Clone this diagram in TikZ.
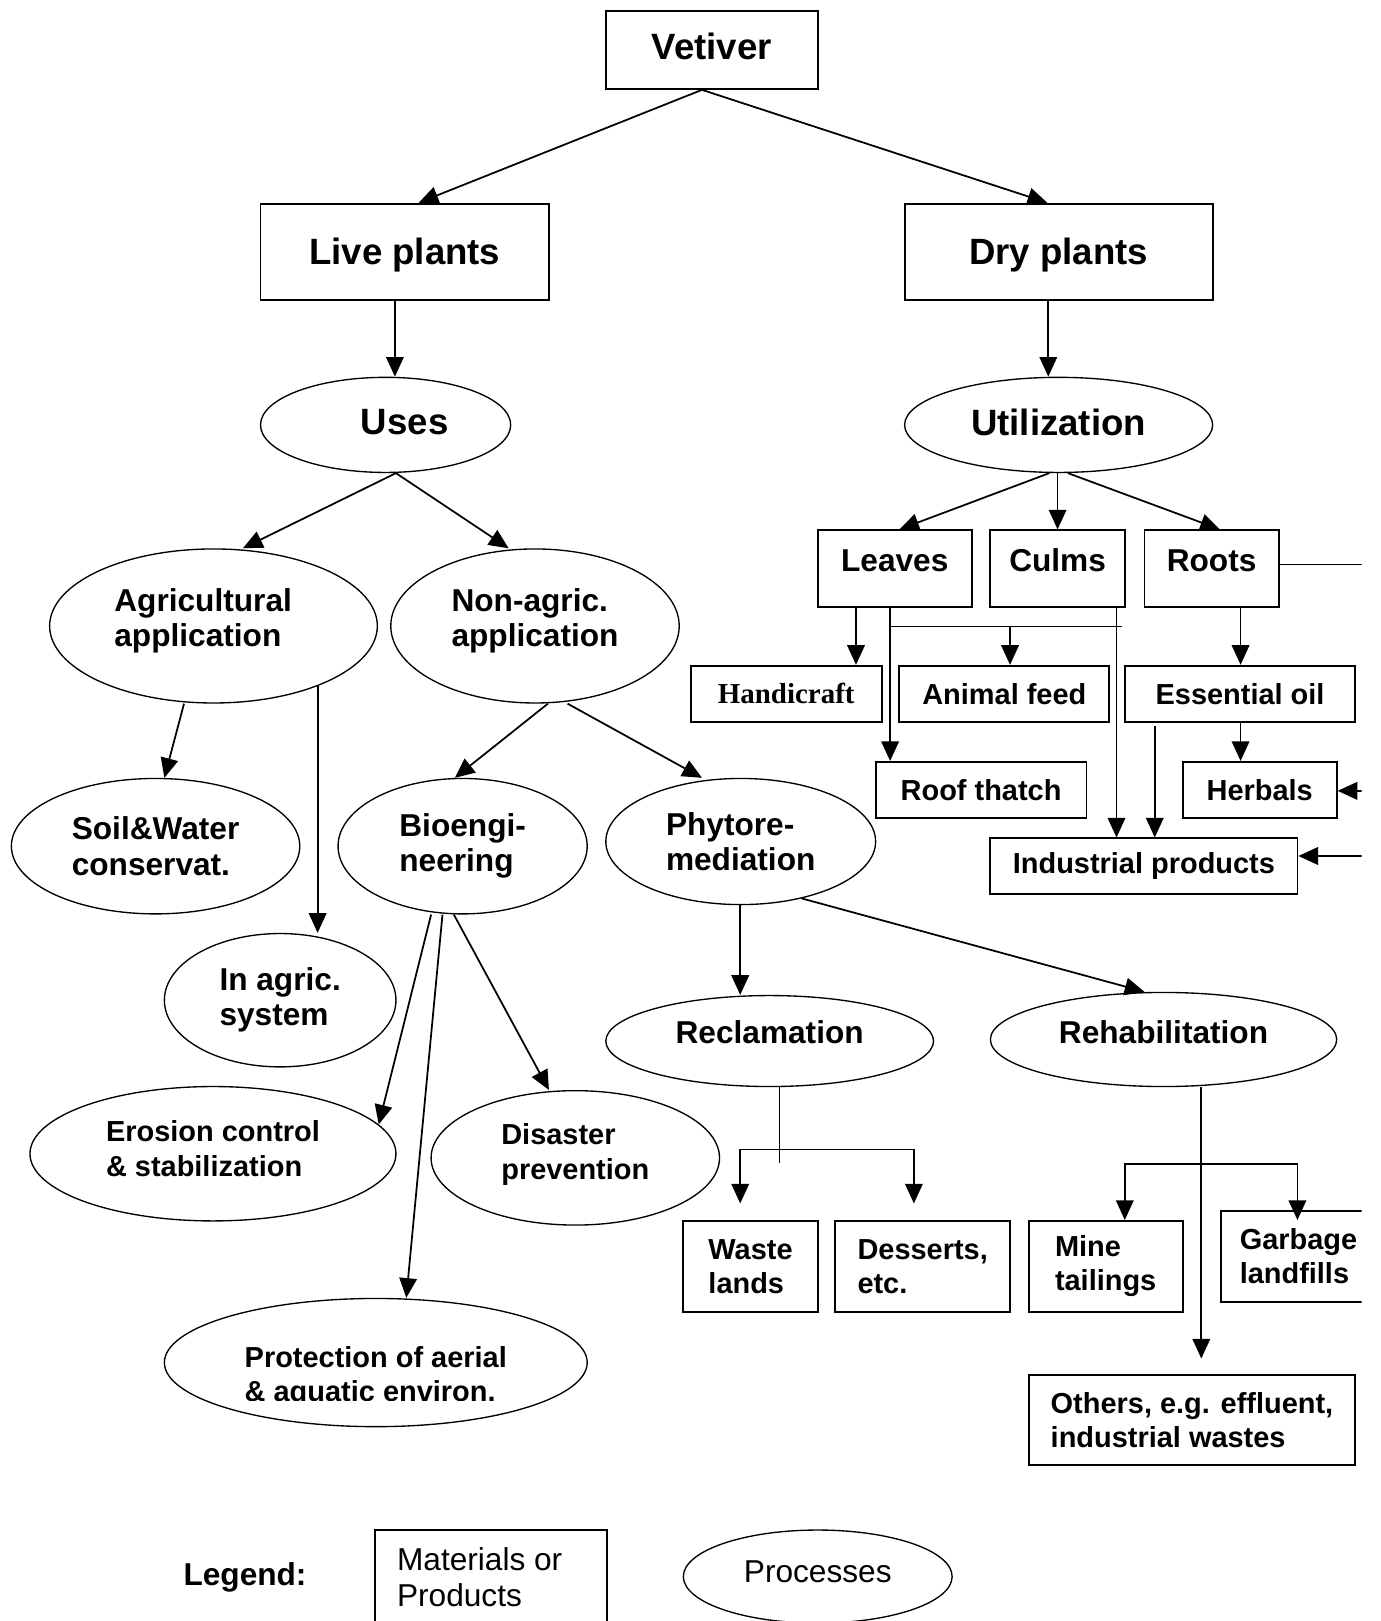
\documentclass[tikz,border=0pt]{standalone}
\usepackage{fontspec}
\setmainfont{Liberation Sans}
\newfontfamily\serifface{Liberation Serif}
\usetikzlibrary{shapes.geometric,arrows.meta}
\newcommand\bigtxt{\fontsize{17.7}{21}\selectfont\bfseries}
\newcommand\medtxt{\fontsize{15.3}{17}\selectfont\bfseries}
\newcommand\smalltxt{\fontsize{14}{16.5}\selectfont\bfseries}
\newcommand\legtxt{\fontsize{15.3}{17.5}\selectfont}
\begin{document}
\begin{tikzpicture}[x=0.5pt,y=-0.5pt,line width=0.85pt,>={Triangle[length=9.5pt,width=8.5pt]},
  box/.style={draw,line width=0.9pt,inner sep=0pt,align=left,font=\smalltxt},
  proc/.style={ellipse,draw,line width=0.65pt,inner sep=0pt,align=left,font=\medtxt},
  topbox/.style={box,font=\medtxt,minimum height=37pt,text height=11pt,text depth=8pt}]
\useasboundingbox (0,0) rectangle (1335,1568);
\begin{scope}
\clip (0,0) rectangle (1317,1568);
\node[box,font=\bigtxt,minimum width=102.5pt,minimum height=37.5pt,text depth=4pt] (vet) at (688.5,48.5) {Vetiver};
\node[box,font=\bigtxt,minimum width=139.5pt,minimum height=46.5pt,text depth=0pt] (live) at (391.5,243.5) {Live plants};
\node[box,font=\bigtxt,minimum width=149pt,minimum height=46.5pt,text depth=0pt] (dry) at (1024,243.5) {Dry plants};
\node[proc,font=\bigtxt,minimum width=121pt,minimum height=46pt,text depth=3pt] (uses) at (373,411) {\hspace*{18.5pt}Uses};
\node[proc,font=\bigtxt,minimum width=149pt,minimum height=46pt,text depth=3pt] (util) at (1024,411) {Utilization};
\node[proc,minimum width=158.5pt,minimum height=74.5pt,text depth=8.2pt] (agric) at (206.5,605.5) {Agricultural\hspace*{10pt}\\application};
\node[proc,minimum width=139.5pt,minimum height=74.5pt,text depth=8.2pt] (nonagric) at (517.5,605.5) {Non-agric.\\application};
\node[proc,minimum width=139.5pt,minimum height=65.5pt] (soil) at (150.5,818.5) {Soil\&Water\\conservat.};
\node[proc,minimum width=120.5pt,minimum height=65.5pt] (bio) at (447.5,818.5) {Bioengi-\\neering};
\node[proc,minimum width=130.5pt,minimum height=61pt] (phyto) at (716.5,814) {Phytore-\\mediation};
\node[proc,minimum width=112pt,minimum height=64.5pt] (inagric) at (271,967.5) {In agric.\\system};
\node[proc,font=\smalltxt,minimum width=177pt,minimum height=65pt,text depth=5pt] (erosion) at (206,1116) {Erosion control\\\& stabilization};
\node[proc,font=\smalltxt,minimum width=139.5pt,minimum height=65pt,text depth=6.2pt] (disaster) at (556.5,1120) {Disaster\\prevention};
\node[proc,minimum width=204.5pt,minimum height=62pt] (prot) at (363.5,1318) {};
\begin{scope}
\clip (150,1250) rectangle (580,1355);
\node[font={\fontsize{14}{16}\selectfont\bfseries},align=left] (prottext) at (363.5,1332) {Protection of aerial\\\& aquatic environ.};
\end{scope}
\node[proc,minimum width=158.5pt,minimum height=44pt,text depth=9pt] (reclam) at (744.5,1007) {Reclamation};
\node[proc,minimum width=167.5pt,minimum height=45.5pt,text depth=7pt] (rehab) at (1125.5,1005.5) {Rehabilitation};
\node[topbox,minimum width=74.5pt] (leaves) at (865.5,550) {Leaves};
\node[topbox,minimum width=65pt] (culms) at (1023,550) {Culms};
\node[topbox,minimum width=65pt] (roots) at (1172,550) {Roots};
\node[box,font={\smalltxt\serifface},minimum width=92.5pt,minimum height=27pt] (hand) at (760.5,671) {Handicraft};
\node[box,minimum width=101.5pt,minimum height=27pt] (feed) at (971.5,671) {Animal feed};
\node[box,minimum width=111.5pt,minimum height=27pt] (oil) at (1199.5,671) {Essential oil};
\node[box,minimum width=102pt,minimum height=27pt] (roof) at (949,764) {Roof thatch};
\node[box,minimum width=74.5pt,minimum height=27pt] (herb) at (1218.5,764) {Herbals};
\node[box,minimum width=148.5pt,minimum height=27pt] (indus) at (1106.5,838) {Industrial products};
\node[box,minimum width=65pt,minimum height=44pt] (waste) at (726,1225) {Waste\\lands};
\node[box,minimum width=84.5pt,minimum height=44pt] (dessert) at (892.5,1225) {Desserts,\\etc.};
\node[box,minimum width=74.5pt,minimum height=44pt] (mine) at (1069.5,1225) {Mine\\tailings};
\node[box,minimum width=75pt,minimum height=44pt] (garbage) at (1256,1215) {Garbage\\landfills};
\node[box,minimum width=158pt,minimum height=43.5pt] (others) at (1153,1373.5) {Others, e.g. effluent,\\industrial wastes};
\node[font=\medtxt] (legend) at (237,1526) {Legend:};
\node[box,font=\legtxt,minimum width=112pt,minimum height=46pt] (legbox) at (475,1526) {Materials or\hspace*{11pt}\\Products};
\node[proc,font=\legtxt,minimum width=130pt,minimum height=45pt,text depth=5pt] (legproc) at (791,1525) {Processes};
\draw[->] (679,0 |- vet.south) -- (405,0 |- live.north);
\draw[->] (679,0 |- vet.south) -- (1013,0 |- dry.north);
\draw[->] (382,0 |- live.south) -- (382,0 |- uses.north);
\draw[->] (1014,0 |- dry.south) -- (1014,0 |- util.north);
\draw[->] (383,0 |- uses.south) -- (235,0 |- agric.north);
\draw[->] (383,0 |- uses.south) -- (492,0 |- nonagric.north);
\draw[->] (178,0 |- agric.south) -- (159,0 |- soil.north);
\draw[->] (agric.-30) -- (agric.-30 |- inagric.north);
\draw[->] (530,0 |- nonagric.south) -- (440,0 |- bio.north);
\draw[->] (549,0 |- nonagric.south) -- (679,0 |- phyto.north);
\draw[->] (417,0 |- bio.south) -- (erosion.10);
\draw[->] (428,0 |- bio.south) -- (393,0 |- prot.north);
\draw[->] (439,0 |- bio.south) -- (531,0 |- disaster.north);
\draw[->] (716,0 |- phyto.south) -- (716,0 |- reclam.north);
\draw[->] (phyto.-43) -- (1107,0 |- rehab.north);
\coordinate (recbar) at (754,1112);
\coordinate (recend) at (754,1125);
\draw (754,0 |- reclam.south) -- (recend);
\draw[<->,shorten <=8pt,shorten >=8pt] (716,0 |- waste.north) |- (recbar) -| (884,0 |- dessert.north);
\coordinate (rehbar) at (1162,1126);
\draw[->,shorten >=7.5pt] (1162,0 |- rehab.south) -- (1162,0 |- others.north);
\draw[<->,shorten >=-5pt] (1088,0 |- mine.north) |- (rehbar) -| (1255,0 |- garbage.north);
\draw[->] (1015,0 |- util.south) -- (870,0 |- leaves.north);
\draw[->] (1023,0 |- util.south) -- (1023,0 |- culms.north);
\draw[->] (1033,0 |- util.south) -- (1180,0 |- roots.north);
\coordinate (leafbar) at (1085,606);
\draw[->] (828,0 |- leaves.south) -- (828,0 |- hand.north);
\draw[->] (861,0 |- leaves.south) -- (861,0 |- roof.north);
\draw (861,0 |- leafbar) -- (leafbar);
\draw[->] (977,0 |- leafbar) -- (977,0 |- feed.north);
\draw[->] (1080,0 |- culms.south) -- (1080,0 |- indus.north);
\draw[->] (1200,0 |- roots.south) -- (1200,0 |- oil.north);
\draw[->] (1200,0 |- oil.south) -- (1200,0 |- herb.north);
\draw[->,shorten <=1.5pt] (1117,0 |- oil.south) -- (1117,0 |- indus.north);
\coordinate (rootsout) at (1340,546);
\coordinate (herbin) at (1340,765);
\coordinate (indusin) at (1340,828);
\draw (roots.east |- rootsout) -- (rootsout);
\draw[->] (herbin) -- (herb.east |- herbin);
\draw[->] (indusin) -- (indus.east |- indusin);
\end{scope}
\end{tikzpicture}
\end{document}
